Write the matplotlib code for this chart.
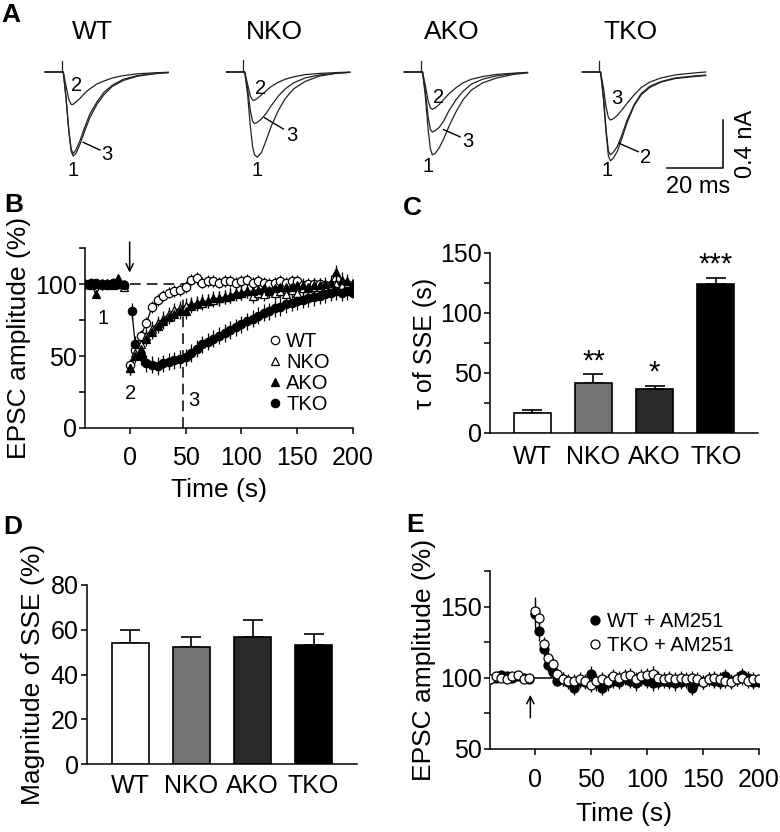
import numpy as np
import matplotlib.pyplot as plt
from matplotlib.lines import Line2D
from matplotlib.ticker import MultipleLocator

plt.rcParams['font.family'] = ['Liberation Sans', 'DejaVu Sans']
plt.rcParams['axes.linewidth'] = 1.1
plt.rcParams['xtick.major.width'] = 1.1
plt.rcParams['ytick.major.width'] = 1.1
plt.rcParams['ytick.minor.width'] = 1.1

genotypes = ['WT', 'NKO', 'AKO', 'TKO']

# ---- A: example EPSC traces (ms, nA), sampled off the figure ----
trace_t = [-6, 0, 0.5, 1.5, 2.5, 3.3, 4.0, 5, 6.5, 8, 10, 12.5, 15, 18, 22, 27, 33, 38]
wt_1 = [0, 0, 0, -0.22, -0.50, -0.66, -0.70, -0.68, -0.60, -0.50, -0.38, -0.27, -0.19, -0.12, -0.07, -0.035, -0.015, -0.005]
wt_2 = [0, 0, 0, -0.12, -0.23, -0.27, -0.27, -0.25, -0.22, -0.18, -0.14, -0.10, -0.075, -0.05, -0.03, -0.015, -0.007, -0.002]
wt_3 = [0, 0, 0, -0.22, -0.49, -0.64, -0.68, -0.65, -0.57, -0.47, -0.35, -0.25, -0.17, -0.11, -0.06, -0.03, -0.012, -0.004]
nko_1 = [0, 0, 0, -0.18, -0.45, -0.62, -0.69, -0.71, -0.67, -0.58, -0.45, -0.32, -0.22, -0.14, -0.08, -0.035, -0.012, -0.003]
nko_2 = [0, 0, 0, -0.10, -0.20, -0.235, -0.235, -0.22, -0.19, -0.16, -0.12, -0.085, -0.06, -0.04, -0.022, -0.012, -0.005, -0.001]
nko_3 = [0, 0, 0, -0.14, -0.32, -0.41, -0.43, -0.42, -0.39, -0.35, -0.28, -0.20, -0.14, -0.09, -0.05, -0.025, -0.01, -0.003]
ako_1 = [0, 0, 0, -0.20, -0.48, -0.64, -0.69, -0.68, -0.63, -0.56, -0.45, -0.33, -0.23, -0.15, -0.09, -0.05, -0.02, -0.007]
ako_2 = [0, 0, 0, -0.11, -0.24, -0.30, -0.31, -0.30, -0.27, -0.23, -0.18, -0.13, -0.09, -0.06, -0.038, -0.02, -0.01, -0.003]
ako_3 = [0, 0, 0, -0.16, -0.37, -0.48, -0.50, -0.49, -0.46, -0.41, -0.32, -0.23, -0.16, -0.10, -0.06, -0.032, -0.014, -0.005]
tko_1 = [0, 0, 0, -0.22, -0.52, -0.70, -0.74, -0.72, -0.66, -0.56, -0.42, -0.28, -0.19, -0.13, -0.085, -0.055, -0.04, -0.03]
tko_2 = [0, 0, 0, -0.20, -0.49, -0.66, -0.69, -0.67, -0.62, -0.53, -0.40, -0.27, -0.18, -0.12, -0.08, -0.05, -0.035, -0.025]
tko_3 = [0, 0, 0, -0.13, -0.30, -0.38, -0.40, -0.39, -0.36, -0.32, -0.26, -0.19, -0.13, -0.085, -0.05, -0.025, -0.01, 0]
artifact_nA = [0.09, 0.10, 0.09, 0.09]

# ---- B: EPSC amplitude (%) time course ----
t_base = [-40, -35, -30, -25, -20, -15, -10, -5]
t_post = [0, 5, 10, 15, 20, 25, 30, 35, 40, 45, 50, 55, 60, 65, 70, 75, 80, 85, 90, 95, 100,
          105, 110, 115, 120, 125, 130, 135, 140, 145, 150, 155, 160, 165, 170, 175, 180, 185, 190, 195, 200]
t_post_tko = [2] + t_post[1:]
wt_base = [100, 100, 101, 100, 99, 100, 101, 99]
nko_base = [100, 99, 100, 101, 100, 99, 100, 98]
ako_base = [100, 100, 93, 100, 101, 100, 104, 100]
tko_base = [100, 101, 100, 99, 100, 101, 100, 99]
wt_post = [44, 54, 64, 73, 84, 89, 92, 94, 95, 96, 98, 103, 104, 101, 102, 102, 101, 102, 102, 101, 102,
           103, 101, 102, 101, 100, 101, 102, 101, 102, 102, 99, 100, 100, 100, 99, 99, 99, 98, 98, 98]
nko_post = [42, 52, 58, 64, 69, 73, 76, 79, 82, 83, 85, 86, 86, 87, 88, 89, 90, 91, 92, 93, 94,
            95, 92, 94, 93, 95, 94, 95, 93, 96, 94, 97, 97, 98, 98, 98, 99, 100, 99, 99, 100]
ako_post = [42, 50, 55, 62, 67, 71, 74, 77, 79, 81, 81, 85, 87, 88, 88, 90, 90, 91, 92, 94, 94,
            95, 95, 96, 97, 96, 97, 98, 98, 98, 99, 99, 98, 99, 99, 100, 101, 108, 103, 102, 101]
tko_post = [81, 58, 50, 45, 44, 43, 45, 46, 47, 48, 49, 52, 55, 58, 60, 62, 64, 66, 68, 70, 72,
            74, 76, 78, 80, 81, 83, 84, 86, 87, 88, 89, 90, 91, 92, 93, 94, 95, 94, 95, 94]
sem_b = [4, 5, 5, 6]

# ---- C: tau of SSE (s) ----
tau_mean = [17, 42, 37, 124]
tau_sem = [2, 7, 2.5, 5.5]
tau_stars = ['', '**', '*', '***']

# ---- D: magnitude of SSE (%) ----
mag_mean = [54.2, 52.5, 56.6, 53.1]
mag_sem = [5.8, 4.3, 7.6, 4.8]
bar_colors = ['white', '#737373', '#2a2a2a', 'black']

# ---- E: with AM251 ----
t_e_base = [-40, -35, -30, -25, -20, -15, -10, -5]
t_e_post = [0, 4, 8, 12, 16, 20, 25, 30, 35, 40, 45, 50, 55, 60, 65, 70, 75, 80, 85, 90, 95, 100,
            105, 110, 115, 120, 125, 130, 135, 140, 145, 150, 155, 160, 165, 170, 175, 180, 185, 190, 195, 200]
wt_am_base = [99, 100, 102, 101, 100, 101, 100, 99]
tko_am_base = [99, 101, 100, 99, 101, 102, 99, 100]
wt_am_post = [145, 133, 120, 109, 104, 98, 99, 97, 93, 98, 97, 103, 96, 93, 96, 98, 97, 100, 98, 96, 99, 98,
              96, 97, 98, 97, 96, 97, 98, 93, 98, 97, 99, 98, 97, 101, 98, 99, 102, 100, 97, 97]
tko_am_post = [147, 142, 124, 114, 110, 103, 99, 98, 98, 99, 98, 95, 98, 99, 98, 101, 100, 101, 102, 99, 101, 102,
               103, 100, 99, 100, 99, 100, 99, 100, 99, 97, 99, 100, 99, 98, 97, 99, 100, 98, 99, 99]
sem_e_early = [10, 7, 5, 5, 4, 4]
sem_e_late = 5

fig = plt.figure(figsize=(7.8, 8.32), dpi=100)
W, H = 780.0, 832.0


def px_axes(left, top, right, bottom):
    return fig.add_axes([left / W, 1 - bottom / H, (right - left) / W, (bottom - top) / H])


def style(ax):
    ax.spines['top'].set_visible(False)
    ax.spines['right'].set_visible(False)
    ax.tick_params(direction='out', length=4, labelsize=18)
    ax.tick_params(which='minor', direction='out', length=4)


# ---------------- panel A ----------------
axA = px_axes(0, 0, 780, 200)
axA.set_xlim(0, 780 / 2.8)
axA.set_ylim(-(200 - 72) / 120, 72 / 120)
axA.axis('off')
stim_ms = [22.1, 86.9, 150.4, 214.0]
trace_sets = [[wt_1, wt_2, wt_3], [nko_1, nko_2, nko_3], [ako_1, ako_2, ako_3], [tko_1, tko_2, tko_3]]
title_x = [92, 274, 452, 630]
num_labels = [
    [('2', 5.2, -0.11), ('1', 4.0, -0.82), ('3', 16.0, -0.69)],
    [('2', 6.0, -0.14), ('1', 4.8, -0.82), ('3', 17.4, -0.53)],
    [('2', 6.2, -0.21), ('1', 2.6, -0.79), ('3', 16.7, -0.58)],
    [('3', 6.2, -0.22), ('1', 2.8, -0.82), ('2', 16.7, -0.71)],
]
leaders = [((7.6, -0.586), (13.6, -0.65)), ((7.5, -0.38), (14.3, -0.475)),
           ((8.0, -0.48), (13.9, -0.54)), ((7.1, -0.594), (13.9, -0.664))]
for g in range(4):
    x0 = stim_ms[g]
    for tr in trace_sets[g]:
        axA.plot(np.array(trace_t) + x0, tr, color='#222222', lw=0.9)
    axA.plot([x0, x0], [0, artifact_nA[g]], color='#222222', lw=0.9)
    for s, dx, y in num_labels[g]:
        axA.text(x0 + dx, y, s, fontsize=14.5, ha='center', va='center')
    (lx0, ly0), (lx1, ly1) = leaders[g]
    axA.plot([x0 + lx0, x0 + lx1], [ly0, ly1], color='k', lw=1)
    axA.text(title_x[g] / 2.8, (72 - 32) / 120, genotypes[g], fontsize=19, ha='center', va='center')
# scale bar 20 ms / 0.4 nA
axA.plot([238.2, 258.2, 258.2], [-0.8, -0.8, -0.4], color='k', lw=1.1)
axA.text(249.3, -0.96, '20 ms', fontsize=17, ha='center', va='center')
axA.text(266.5, -0.6, '0.4 nA', fontsize=17, ha='center', va='center', rotation=90)

# ---------------- panel B ----------------
axB = px_axes(85, 248, 353, 428)
style(axB)
series_b = [
    (t_base + t_post, wt_base + wt_post, 'o', 'white', 'WT'),
    (t_base + t_post, nko_base + nko_post, '^', 'white', 'NKO'),
    (t_base + t_post, ako_base + ako_post, '^', 'black', 'AKO'),
    (t_base + t_post_tko, tko_base + tko_post, 'o', 'black', 'TKO'),
]
handles = []
for i, (tt, yy, mk, fc, name) in enumerate(series_b):
    n0 = len(t_base)
    axB.errorbar(tt[n0:], yy[n0:], yerr=sem_b[i], fmt='-', color='k', lw=0.9, elinewidth=0.9, capsize=0, zorder=2)
    axB.errorbar(tt[:n0], yy[:n0], yerr=sem_b[i] * 0.5, fmt='-', color='k', lw=0.9, elinewidth=0.9, capsize=0, zorder=2)
    axB.plot(tt, yy, linestyle='none', marker=mk, ms=6, mfc=fc, mec='k', mew=0.9, zorder=3 + i)
    handles.append(Line2D([], [], linestyle='none', marker=mk, ms=6, mfc=fc, mec='k', mew=0.9))
axB.plot([0, 200], [100, 100], color='k', lw=1.1, dashes=(7, 4), zorder=1)
axB.plot([48, 48], [0, 100], color='k', lw=1.1, dashes=(7, 4), zorder=1)
axB.annotate('', xy=(0, 106), xytext=(0, 131), annotation_clip=False,
             arrowprops=dict(arrowstyle='->', lw=1.1, color='k', mutation_scale=13))
for s, x, y in [('1', -23.4, 76), ('2', 0.6, 24), ('3', 57.7, 19.4)]:
    axB.text(x, y, s, fontsize=14.5, ha='center', va='center')
axB.legend(handles, genotypes, loc='upper left', bbox_to_anchor=(0.68, 0.535), frameon=False,
           fontsize=14.5, handlelength=0.8, handletextpad=0.15, labelspacing=0.1, borderpad=0, borderaxespad=0)
axB.set_xlim(-40, 200)
axB.set_ylim(0, 125)
axB.set_xticks([0, 50, 100, 150, 200])
axB.set_yticks([0, 50, 100])
axB.yaxis.set_minor_locator(MultipleLocator(25))
axB.tick_params(axis='x', pad=9)
axB.tick_params(axis='y', pad=2)
axB.set_xlabel('Time (s)', fontsize=19, labelpad=6)
axB.set_ylabel('EPSC amplitude (%)', fontsize=19, labelpad=3)

# ---------------- panel C ----------------
axC = px_axes(490, 253, 758, 433)
style(axC)
xc = np.arange(len(genotypes))
axC.bar(xc, tau_mean, width=0.6, color=bar_colors, edgecolor='k', lw=1.2, zorder=3)
axC.errorbar(xc, tau_mean, yerr=[[0] * 4, tau_sem], fmt='none', ecolor='k', elinewidth=1.2,
             capsize=7, capthick=1.2, zorder=2)
for i, s in enumerate(tau_stars):
    if s:
        axC.text(xc[i], tau_mean[i] + tau_sem[i] - 1, s, fontsize=21, ha='center', va='bottom')
axC.set_xlim(-0.69, 3.69)
axC.set_ylim(0, 150)
axC.set_yticks([0, 50, 100, 150])
axC.yaxis.set_minor_locator(MultipleLocator(25))
axC.set_xticks(xc)
axC.set_xticklabels(genotypes)
axC.tick_params(axis='x', length=0, pad=9)
axC.tick_params(axis='y', pad=2)
axC.set_ylabel('τ of SSE (s)', fontsize=18, labelpad=2)

# ---------------- panel D ----------------
axD = px_axes(87, 585, 357, 764)
style(axD)
axD.bar(xc, mag_mean, width=0.6, color=bar_colors, edgecolor='k', lw=1.2, zorder=3)
axD.errorbar(xc, mag_mean, yerr=[[0] * 4, mag_sem], fmt='none', ecolor='k', elinewidth=1.2,
             capsize=7, capthick=1.2, zorder=2)
axD.set_xlim(-0.71, 3.71)
axD.set_ylim(0, 80)
axD.set_yticks([0, 20, 40, 60, 80])
axD.set_xticks(xc)
axD.set_xticklabels(genotypes)
axD.tick_params(axis='x', length=0, pad=7)
axD.tick_params(axis='y', pad=2)
axD.set_ylabel('Magnitude of SSE (%)', fontsize=19, labelpad=4)

# ---------------- panel E ----------------
axE = px_axes(490, 571, 759, 749)
style(axE)
axE.plot([0, 200], [100, 100], color='k', lw=1.1, zorder=1)
sem_e = sem_e_early + [sem_e_late] * (len(t_e_post) - len(sem_e_early))
for i, (yb, yp, fc) in enumerate([(wt_am_base, wt_am_post, 'black'), (tko_am_base, tko_am_post, 'white')]):
    axE.errorbar(t_e_post, yp, yerr=sem_e, fmt='none', ecolor='k', elinewidth=0.9, capsize=0, zorder=2)
    axE.plot(t_e_base + t_e_post, yb + yp, linestyle='none', marker='o', ms=6.5, mfc=fc, mec='k',
             mew=0.9, zorder=3 + i)
axE.annotate('', xy=(-4, 90), xytext=(-4, 70),
             arrowprops=dict(arrowstyle='->', lw=1.1, color='k', mutation_scale=13))
h_e = [Line2D([], [], linestyle='none', marker='o', ms=6.5, mfc=c, mec='k', mew=0.9) for c in ['black', 'white']]
axE.legend(h_e, ['WT + AM251', 'TKO + AM251'], loc='upper left', bbox_to_anchor=(0.36, 0.77), frameon=False,
           fontsize=14.5, handlelength=0.8, handletextpad=0.2, labelspacing=0.25, borderpad=0, borderaxespad=0)
axE.set_xlim(-40, 200)
axE.set_ylim(50, 175)
axE.set_xticks([0, 50, 100, 150, 200])
axE.set_yticks([50, 100, 150])
axE.yaxis.set_minor_locator(MultipleLocator(25))
axE.tick_params(axis='x', pad=10)
axE.tick_params(axis='y', pad=2)
axE.set_xlabel('Time (s)', fontsize=19, labelpad=7)
axE.set_ylabel('EPSC amplitude (%)', fontsize=19, labelpad=3)

# panel letters
for s, x, y in [('A', 11, 15), ('B', 14, 205), ('C', 412, 208), ('D', 13, 527), ('E', 415, 525)]:
    fig.text(x / W, 1 - y / H, s, fontsize=19, fontweight='bold', ha='center', va='center')

fig.savefig('out.png', dpi=100)
